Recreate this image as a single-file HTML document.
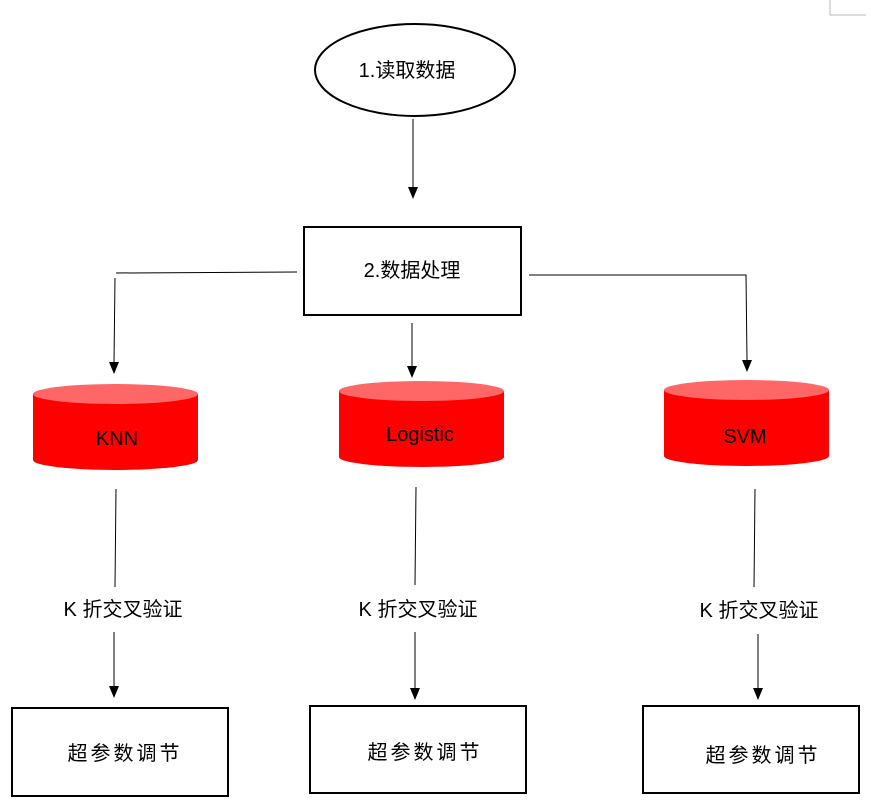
<!DOCTYPE html>
<html><head><meta charset="utf-8"><style>body{margin:0;background:#fff}svg{display:block}text{font-family:"Liberation Sans","Noto Sans CJK SC",sans-serif;font-size:20px;fill:#000}</style></head>
<body>
<svg width="871" height="801" viewBox="0 0 871 801">
<path d="M830 0 V15 H866" fill="none" stroke="#bbb" stroke-width="1"/>
<ellipse cx="415" cy="70" rx="100" ry="46" fill="#fff" stroke="#000" stroke-width="2"/>
<text x="407" y="77" text-anchor="middle">1.读取数据</text>
<line x1="413" y1="119" x2="413" y2="188" stroke="#000"/><path d="M408,187 L418,187 L413,199 Z"/>
<rect x="304" y="227" width="217" height="88" fill="#fff" stroke="#000" stroke-width="2"/>
<text x="412" y="277" text-anchor="middle">2.数据处理</text>
<polyline points="297,272 116,273" stroke="#000" fill="none"/>
<line x1="115" y1="278" x2="114" y2="362" stroke="#000"/><path d="M109,362 L119,362 L114,374 Z"/>
<line x1="412" y1="323" x2="412" y2="366" stroke="#000"/><path d="M407,366 L417,366 L412,378 Z"/>
<polyline points="529,275 746,275 747,360" stroke="#000" fill="none"/><path d="M742,360 L752,360 L747,372 Z"/>
<g>
<path d="M33,394 V460 A82.5,10 0 0 0 198,460 V394 Z" fill="#ff0000"/><ellipse cx="115.5" cy="394" rx="82.5" ry="10" fill="#ff6666"/>
<text x="117" y="445" text-anchor="middle">KNN</text>
<path d="M339,391 V457 A82.5,10 0 0 0 504,457 V391 Z" fill="#ff0000"/><ellipse cx="421.5" cy="391" rx="82.5" ry="10" fill="#ff6666"/>
<text x="420" y="441" text-anchor="middle">Logistic</text>
<path d="M664,390 V456 A82.5,10 0 0 0 829,456 V390 Z" fill="#ff0000"/><ellipse cx="746.5" cy="390" rx="82.5" ry="10" fill="#ff6666"/>
<text x="745" y="443" text-anchor="middle">SVM</text>
</g>
<line x1="116" y1="489" x2="115" y2="587" stroke="#000"/>
<line x1="416" y1="487" x2="415" y2="585" stroke="#000"/>
<line x1="755" y1="489" x2="754" y2="587" stroke="#000"/>
<text x="123" y="616" text-anchor="middle">K 折交叉验证</text>
<text x="418" y="616" text-anchor="middle">K 折交叉验证</text>
<text x="759" y="617" text-anchor="middle">K 折交叉验证</text>
<line x1="114" y1="632" x2="114" y2="686" stroke="#000"/><path d="M109,686 L119,686 L114,698 Z"/>
<line x1="415" y1="632" x2="415" y2="688" stroke="#000"/><path d="M410,688 L420,688 L415,700 Z"/>
<line x1="758" y1="634" x2="758" y2="688" stroke="#000"/><path d="M753,688 L763,688 L758,700 Z"/>
<rect x="12" y="708" width="216" height="88" fill="#fff" stroke="#000" stroke-width="2"/>
<rect x="310" y="706" width="216" height="87" fill="#fff" stroke="#000" stroke-width="2"/>
<rect x="643" y="706" width="216" height="87" fill="#fff" stroke="#000" stroke-width="2"/>
<text x="125" y="760" text-anchor="middle" letter-spacing="3">超参数调节</text>
<text x="425" y="759" text-anchor="middle" letter-spacing="3">超参数调节</text>
<text x="763" y="762" text-anchor="middle" letter-spacing="3">超参数调节</text>
</svg>
</body></html>
